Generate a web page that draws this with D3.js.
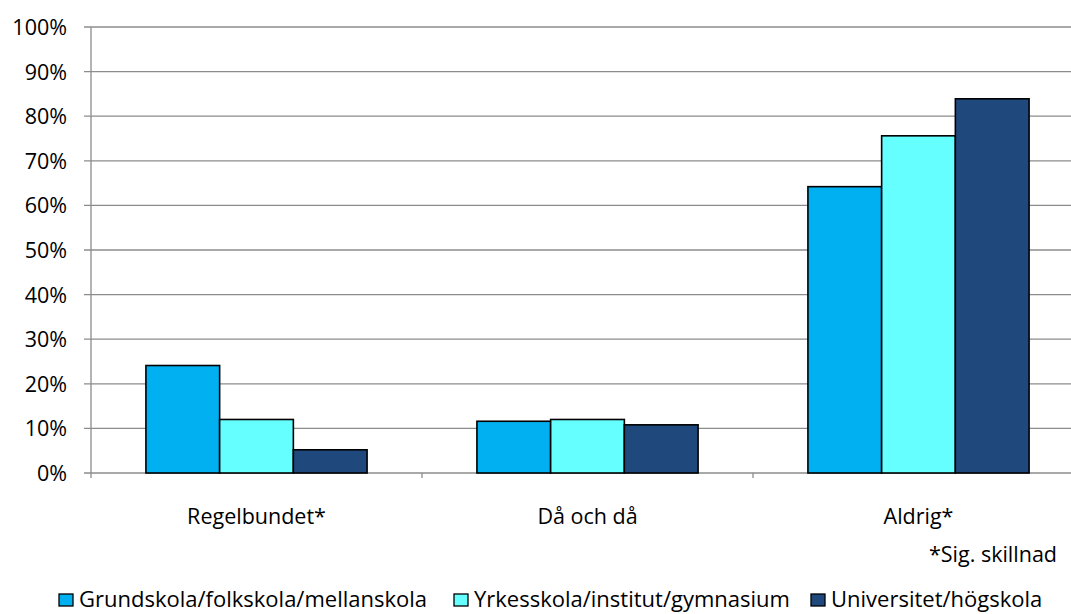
<!DOCTYPE html>
<html>
<head>
<meta charset="utf-8">
<script src="https://cdn.jsdelivr.net/npm/d3@7"></script>
<style>
  body { margin: 0; background: #fff; }
  svg text { font-family: "Open Sans", sans-serif; fill: #000; }
</style>
</head>
<body>
<svg id="chart" width="1071" height="614"></svg>
<script>
// data
var categories = ["Regelbundet*", "Då och då", "Aldrig*"];
var seriesNames = ["Grundskola/folkskola/mellanskola", "Yrkesskola/institut/gymnasium", "Universitet/högskola"];
var grundskola = [24.1, 11.6, 64.2];
var yrkesskola = [12.0, 12.0, 75.6];
var universitet = [5.2, 10.8, 83.9];
var yTicks = [0, 10, 20, 30, 40, 50, 60, 70, 80, 90, 100];
var colors = ["#00B0F0", "#66FFFF", "#1F497D"];
var note = "*Sig. skillnad";

var seriesValues = [grundskola, yrkesskola, universitet];

var svg = d3.select("#chart");
var plotLeft = 91, plotRight = 1084, plotTop = 27, plotBottom = 473;
var fontSize = "21.5px";

var x = d3.scaleBand().domain(categories).range([plotLeft, plotRight]).padding(0);
var xInner = d3.scaleBand().domain(d3.range(seriesNames.length))
    .range([0, x.bandwidth()]).paddingInner(0).paddingOuter(0.745);
var y = d3.scaleLinear().domain([0, 100]).range([plotBottom, plotTop]);

// gridlines
svg.append("g").selectAll("line")
    .data(yTicks)
    .enter().append("line")
    .attr("x1", plotLeft - 7).attr("x2", plotRight)
    .attr("y1", function (d) { return y(d); })
    .attr("y2", function (d) { return y(d); })
    .style("stroke", "#8c8c8c")
    .style("stroke-width", "1.3px");

// left axis line
svg.append("line")
    .attr("x1", plotLeft).attr("x2", plotLeft)
    .attr("y1", y(100)).attr("y2", y(0) + 5)
    .style("stroke", "#8c8c8c").style("stroke-width", "1.3px");

// category boundary ticks
svg.append("g").selectAll("line")
    .data(categories)
    .enter().append("line")
    .attr("x1", function (d) { return x(d) + x.step(); })
    .attr("x2", function (d) { return x(d) + x.step(); })
    .attr("y1", y(0)).attr("y2", y(0) + 5)
    .style("stroke", "#8c8c8c").style("stroke-width", "1.3px");

// y tick labels
svg.append("g").selectAll("text")
    .data(yTicks)
    .enter().append("text")
    .attr("x", 67)
    .attr("y", function (d) { return y(d) + 8; })
    .attr("text-anchor", "end")
    .style("font-size", fontSize)
    .text(function (d) { return d + "%"; });

// bars
var groups = svg.append("g").selectAll("g")
    .data(categories)
    .enter().append("g")
    .attr("transform", function (d) { return "translate(" + x(d) + ",0)"; });

groups.selectAll("rect")
    .data(function (d, ci) {
        return seriesValues.map(function (vals, si) { return { s: si, v: vals[ci] }; });
    })
    .enter().append("rect")
    .attr("x", function (d) { return xInner(d.s); })
    .attr("width", xInner.bandwidth())
    .attr("y", function (d) { return y(d.v); })
    .attr("height", function (d) { return y(0) - y(d.v); })
    .style("fill", function (d) { return colors[d.s]; })
    .style("stroke", "#000")
    .style("stroke-width", "1.6px");

// category labels
svg.append("g").selectAll("text")
    .data(categories)
    .enter().append("text")
    .attr("x", function (d) { return x(d) + x.bandwidth() / 2; })
    .attr("y", 524)
    .attr("text-anchor", "middle")
    .style("font-size", fontSize)
    .text(function (d) { return d; });

// note
svg.append("text")
    .attr("x", 1057).attr("y", 562)
    .attr("text-anchor", "end")
    .style("font-size", fontSize)
    .text(note);

// legend
var legendX = [59, 454, 811];
var legend = svg.append("g").selectAll("g")
    .data(seriesNames)
    .enter().append("g")
    .attr("transform", function (d, i) { return "translate(" + legendX[i] + ",594)"; });

legend.append("rect")
    .attr("width", 14).attr("height", 12)
    .style("fill", function (d, i) { return colors[i]; })
    .style("stroke", "#000").style("stroke-width", "1.3px");

legend.append("text")
    .attr("x", 20).attr("y", 13)
    .style("font-size", "22px")
    .text(function (d) { return d; });
</script>
</body>
</html>
